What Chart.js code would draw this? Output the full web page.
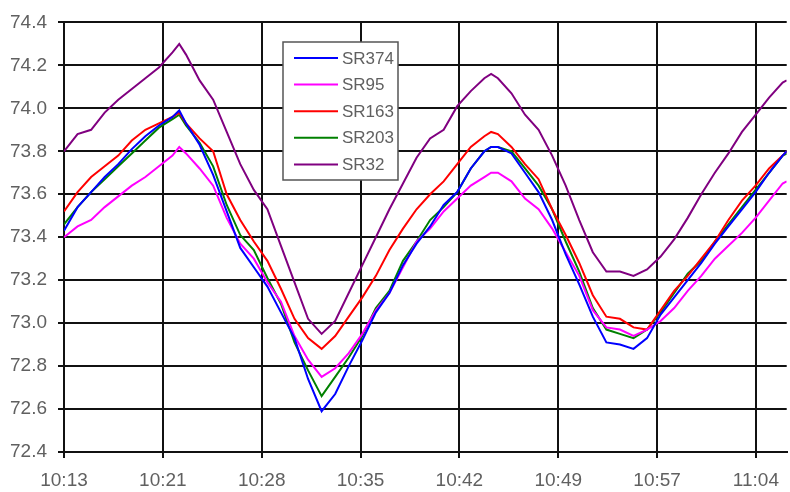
<!DOCTYPE html>
<html>
<head>
<meta charset="utf-8">
<script src="https://cdn.jsdelivr.net/npm/chart.js@4/dist/chart.umd.min.js"></script>
<style>
  html, body { margin: 0; padding: 0; background: #fff; }
  #wrap { width: 790px; height: 492px; position: relative; }
</style>
</head>
<body>
<div id="wrap"><canvas id="c" width="790" height="492"></canvas></div>
<script>
// minutes after 10:13
const times = [0,1,2,3,4,5,6,7,8,8.5,9,10,11,12,13,14,15,16,17,18,19,20,21,22,23,24,25,26,27,28,29,30,31,31.5,32,33,34,35,36,37,38,39,40,41,42,43,44,45,46,47,48,49,50,51,52,53,53.3];

const seriesNames = ['SR374','SR95','SR163','SR203','SR32'];

const sr374 = [73.43,73.54,73.61,73.68,73.74,73.81,73.87,73.92,73.96,73.99,73.93,73.83,73.69,73.52,73.35,73.26,73.17,73.05,72.93,72.74,72.59,72.67,72.80,72.92,73.05,73.14,73.27,73.37,73.45,73.55,73.61,73.72,73.80,73.82,73.82,73.79,73.70,73.61,73.48,73.32,73.18,73.03,72.91,72.90,72.88,72.93,73.04,73.12,73.20,73.28,73.37,73.45,73.53,73.61,73.70,73.78,73.80];
const sr95  = [73.40,73.45,73.48,73.54,73.59,73.64,73.68,73.73,73.78,73.82,73.79,73.72,73.64,73.49,73.37,73.30,73.19,73.10,72.94,72.83,72.75,72.79,72.86,72.95,73.06,73.14,73.26,73.38,73.44,73.52,73.58,73.64,73.68,73.70,73.70,73.66,73.58,73.53,73.44,73.33,73.22,73.06,72.98,72.97,72.94,72.97,73.01,73.07,73.15,73.22,73.30,73.36,73.42,73.49,73.57,73.65,73.66];
const sr163 = [73.52,73.61,73.68,73.73,73.78,73.85,73.90,73.93,73.96,73.98,73.93,73.86,73.80,73.60,73.48,73.38,73.29,73.16,73.02,72.93,72.88,72.94,73.03,73.12,73.22,73.34,73.44,73.53,73.60,73.66,73.74,73.82,73.87,73.89,73.88,73.82,73.74,73.67,73.53,73.41,73.28,73.13,73.03,73.02,72.98,72.97,73.06,73.15,73.22,73.30,73.38,73.48,73.57,73.64,73.72,73.78,73.80];
const sr203 = [73.46,73.54,73.61,73.67,73.73,73.79,73.85,73.91,73.95,73.97,73.92,73.84,73.73,73.55,73.41,73.34,73.21,73.09,72.91,72.78,72.66,72.75,72.84,72.94,73.07,73.15,73.29,73.38,73.48,73.54,73.61,73.72,73.80,73.82,73.82,73.80,73.72,73.64,73.53,73.38,73.24,73.07,72.97,72.95,72.93,72.97,73.05,73.14,73.23,73.29,73.38,73.46,73.54,73.62,73.70,73.78,73.79];
const sr32  = [73.80,73.88,73.90,73.98,74.04,74.09,74.14,74.19,74.26,74.30,74.25,74.13,74.04,73.89,73.74,73.62,73.53,73.36,73.19,73.02,72.95,73.01,73.14,73.27,73.40,73.53,73.65,73.77,73.86,73.90,74.01,74.08,74.14,74.16,74.14,74.07,73.97,73.90,73.78,73.64,73.48,73.33,73.24,73.24,73.22,73.25,73.31,73.39,73.49,73.60,73.70,73.79,73.89,73.97,74.05,74.12,74.13];

const seriesColors = ['#0000ff','#ff00ff','#ff0000','#008000','#800080'];

const xTickPos = [0,7.29,14.58,21.87,29.16,36.45,43.74,51.03];
const xTickLabels = ['10:13','10:21','10:28','10:35','10:42','10:49','10:57','11:04'];
const yTicks = [72.4,72.6,72.8,73.0,73.2,73.4,73.6,73.8,74.0,74.2,74.4];

const allSeries = [sr374, sr95, sr163, sr203, sr32];
const datasets = allSeries.map((vals, i) => ({
  label: seriesNames[i],
  data: vals.map((v, j) => ({ x: times[j], y: v })),
  borderColor: seriesColors[i],
  backgroundColor: seriesColors[i],
  borderWidth: 2,
  pointRadius: 0,
  tension: 0,
  fill: false
}));

const FONT = "Arial, 'Liberation Sans', sans-serif";

const boxLegend = {
  id: 'boxLegend',
  afterDatasetsDraw(chart) {
    const ctx = chart.ctx;
    const x = 283, y = 42, w = 115, h = 138;
    ctx.save();
    ctx.fillStyle = '#ffffff';
    ctx.fillRect(x, y, w, h);
    ctx.strokeStyle = '#555555';
    ctx.lineWidth = 1.5;
    ctx.strokeRect(x, y, w, h);
    ctx.font = '17px ' + FONT;
    ctx.textBaseline = 'middle';
    ctx.textAlign = 'left';
    chart.data.datasets.forEach((ds, i) => {
      const cy = 58 + i * 26.6;
      ctx.strokeStyle = ds.borderColor;
      ctx.lineWidth = 2;
      ctx.beginPath();
      ctx.moveTo(294, cy);
      ctx.lineTo(338, cy);
      ctx.stroke();
      ctx.fillStyle = '#606060';
      ctx.fillText(ds.label, 342, cy + 1);
    });
    ctx.restore();
  }
};

new Chart(document.getElementById('c'), {
  type: 'line',
  data: { datasets },
  options: {
    responsive: false,
    animation: false,
    devicePixelRatio: 1,
    layout: { padding: { top: 21, right: 0, left: 0, bottom: 0 } },
    plugins: { legend: { display: false }, tooltip: { enabled: false } },
    scales: {
      x: {
        type: 'linear',
        min: 0,
        max: 53.3,
        afterBuildTicks: (s) => { s.ticks = xTickPos.map(v => ({ value: v })); },
        afterFit: (s) => { s.height = 40; },
        ticks: {
          autoSkip: false,
          maxRotation: 0,
          padding: 11,
          color: '#606060',
          font: { family: FONT, size: 19 },
          callback: (v, i) => xTickLabels[i]
        },
        grid: { color: '#111111', lineWidth: 2, tickLength: 6, drawTicks: true },
        border: { color: '#111111', width: 2 }
      },
      y: {
        min: 72.4,
        max: 74.4,
        afterBuildTicks: (s) => { s.ticks = yTicks.map(v => ({ value: v })); },
        afterFit: (s) => { s.width = 64; },
        ticks: {
          padding: 11,
          color: '#606060',
          font: { family: FONT, size: 19 },
          callback: (v) => Number(v).toFixed(1)
        },
        grid: { color: '#111111', lineWidth: 2, tickLength: 6, drawTicks: true },
        border: { color: '#111111', width: 2 }
      }
    }
  },
  plugins: [boxLegend]
});
</script>
</body>
</html>
